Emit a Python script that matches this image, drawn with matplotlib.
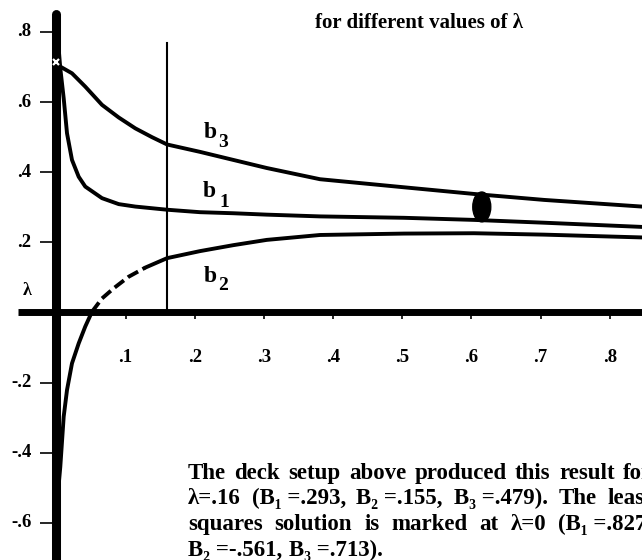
import re
import matplotlib
matplotlib.use("Agg")
import matplotlib.pyplot as plt
from matplotlib.patches import Ellipse

# Ridge trace: standardized coefficients b1, b2, b3 as functions of lambda
lam_b1 = [0, 0.0055, 0.0104, 0.0152, 0.0224, 0.0321, 0.0416, 0.0658, 0.090,
          0.114, 0.16, 0.2075, 0.2557, 0.304, 0.381, 0.5025, 0.6037, 0.705, 0.8467]
b1 = [0.827, 0.696, 0.611, 0.511, 0.435, 0.387, 0.359, 0.326, 0.309,
      0.302, 0.293, 0.286, 0.283, 0.279, 0.274, 0.270, 0.264, 0.256, 0.244]

lam_b2 = [0, 0.0055, 0.0104, 0.0152, 0.0224, 0.0321, 0.0416, 0.0513, 0.0658,
          0.0827, 0.1044, 0.1284, 0.16, 0.2075, 0.2557, 0.304, 0.381, 0.5025,
          0.6037, 0.705, 0.8467]
b2 = [-0.561, -0.440, -0.297, -0.221, -0.145, -0.088, -0.040, 0.002, 0.040,
      0.069, 0.102, 0.128, 0.155, 0.175, 0.192, 0.207, 0.221, 0.225,
      0.226, 0.222, 0.214]

lam_b3 = [0, 0.0055, 0.0224, 0.0416, 0.0658, 0.090, 0.114, 0.138, 0.16,
          0.2075, 0.2557, 0.304, 0.381, 0.5025, 0.6037, 0.705, 0.8467]
b3 = [0.713, 0.701, 0.682, 0.644, 0.592, 0.556, 0.525, 0.500, 0.479,
      0.458, 0.435, 0.412, 0.380, 0.357, 0.338, 0.321, 0.302]

# portion of b2 drawn broken (just above the lambda axis)
b2_dash_from = 0.0513
b2_dash_to = 0.1284

lam_chosen = 0.16
lam_least_squares = 0.0

x_ticks = [0.1, 0.2, 0.3, 0.4, 0.5, 0.6, 0.7, 0.8]
x_tick_labels = [".1", ".2", ".3", ".4", ".5", ".6", ".7", ".8"]
y_ticks = [0.8, 0.6, 0.4, 0.2, -0.2, -0.4, -0.6]
y_tick_labels = [".8", ".6", ".4", ".2", "-.2", "-.4", "-.6"]
axis_label = "λ"

title = "for different values of λ"
caption = [
    "The deck setup above produced this result for",
    "λ=.16 (B₁ =.293, B₂ =.155, B₃ =.479). The least",
    "squares solution is marked at λ=0 (B₁ =.827,",
    "B₂ =-.561, B₃ =.713).",
]

W, H = 642, 560
fig = plt.figure(figsize=(W / 100, H / 100), dpi=100)
ax = fig.add_axes([0, 0, 1, 1])
ax.set_xlim(-0.0817, 0.8467)
ax.set_ylim(-0.7057, 0.891)
ax.axis("off")

serif = ["Liberation Serif", "DejaVu Serif"]
font = dict(family=serif, fontweight="bold", color="black")
ink = "black"

# axes drawn as heavy pen strokes
ax.plot([0, 0], [-0.80, 0.85], color=ink, lw=6.5, solid_capstyle="round", zorder=3)
ax.plot([-0.055, 0.90], [0, 0], color=ink, lw=5, solid_capstyle="butt", zorder=3)
ax.hlines(y_ticks, -0.024, 0, color=ink, lw=1.2)
ax.vlines(x_ticks, -0.018, 0, color=ink, lw=1.2)

for v, s in zip(y_ticks, y_tick_labels):
    ax.text(-0.036, v, s, ha="right", va="center", fontsize=13.5, **font)
ax.text(-0.036, 0.064, axis_label, ha="right", va="center", fontsize=13, **font)
for v, s in zip(x_ticks, x_tick_labels):
    ax.text(v, -0.127, s, ha="center", va="center", fontsize=13.5, **font)

# chosen lambda
ax.plot([lam_chosen, lam_chosen], [0, 0.768], color=ink, lw=1.5)

# coefficient traces
lw = 2.8
ax.plot(lam_b1, b1, color=ink, lw=lw, solid_capstyle="round", zorder=2)
ax.plot(lam_b3, b3, color=ink, lw=lw, solid_capstyle="round", zorder=2)
seg_a = [(l, v) for l, v in zip(lam_b2, b2) if l <= b2_dash_from]
seg_b = [(l, v) for l, v in zip(lam_b2, b2) if b2_dash_from <= l <= b2_dash_to]
seg_c = [(l, v) for l, v in zip(lam_b2, b2) if l >= b2_dash_to]
for seg, ls in ((seg_a, "-"), (seg_b, (0, (3, 1.3))), (seg_c, "-")):
    xs, ys = zip(*seg)
    ax.plot(xs, ys, color=ink, lw=lw, linestyle=ls, solid_capstyle="round",
            dash_capstyle="butt", zorder=2)

# least squares point on the axis
ax.plot(lam_least_squares, b3[0], marker="x", color="white", ms=5, mew=1.6, zorder=4)

# ink blot on the traces
ax.add_patch(Ellipse((0.615, 0.301), 0.026, 0.085, color=ink, zorder=2))

# curve labels
for name, sub, (bx, by), (sx, sy) in (
    ("b", "3", (0.2133, 0.4976), (0.2335, 0.472)),
    ("b", "1", (0.2119, 0.329), (0.2350, 0.301)),
    ("b", "2", (0.2133, 0.087), (0.2335, 0.064)),
):
    ax.text(bx, by, name, ha="left", va="baseline", fontsize=17, **font)
    ax.text(sx, sy, sub, ha="left", va="baseline", fontsize=14, **font)

fig.text(315 / W, 1 - 28 / H, title, ha="left", va="baseline", fontsize=15, **font)

# justified caption block
renderer = fig.canvas.get_renderer()
x0, x1 = 188, 652
baselines = [479, 504, 530, 556]
for i, (line, yb) in enumerate(zip(caption, baselines)):
    words = re.split(r" (?!=)", line)
    texts = [fig.text(0, 1 - yb / H, w, ha="left", va="baseline", fontsize=16.5, **font)
             for w in words]
    widths = [t.get_window_extent(renderer).width for t in texts]
    if i < len(caption) - 1:
        gap = (x1 - x0 - sum(widths)) / (len(words) - 1)
    else:
        gap = texts[0].get_fontsize() * 1.39 * 0.3
    x = x0
    for t, w in zip(texts, widths):
        t.set_x(x / W)
        x += w + gap

fig.savefig("out.png", dpi=100, facecolor="white")
